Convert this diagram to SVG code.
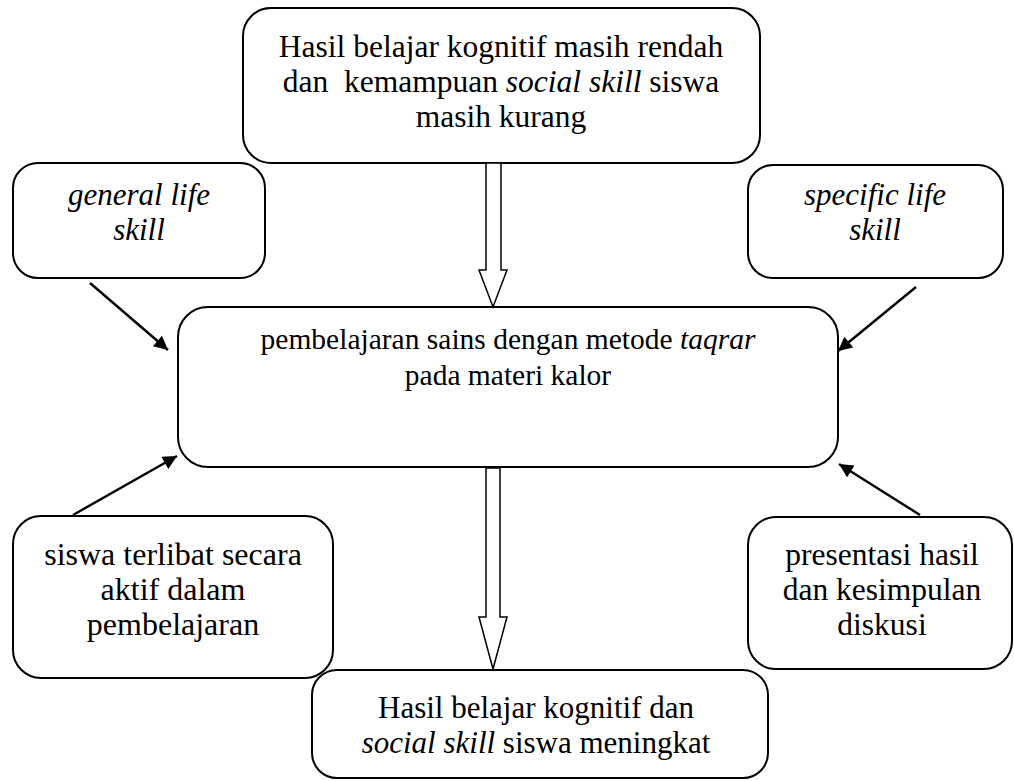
<svg xmlns="http://www.w3.org/2000/svg" width="1014" height="781" viewBox="0 0 1014 781">
<style>
.box{fill:#fff;stroke:#000;stroke-width:2}
text{font-family:'Liberation Serif','Times New Roman',serif;font-size:31px;fill:#000;text-anchor:middle}
.i{font-style:italic}
.ln{stroke:#000;stroke-width:2.4;fill:none}
.blk{fill:#fff;stroke:#000;stroke-width:1.5;stroke-linejoin:miter}
</style>
<defs>
<marker id="ah" viewBox="0 0 10 10" refX="10" refY="5" markerWidth="7.2" markerHeight="5.8" markerUnits="strokeWidth" orient="auto">
<path d="M0,0 L10,5 L0,10 z" fill="#000"/>
</marker>
</defs>
<rect width="1014" height="781" fill="#fff"/>
<g id="n-top">
<rect class="box" x="243" y="8" width="517" height="155" rx="28"/>
<text x="501" y="57" style="font-size:31.5px">Hasil belajar kognitif masih rendah</text>
<text x="501" y="92" style="font-size:31.5px" xml:space="preserve">dan  kemampuan <tspan class="i">social skill</tspan> siswa</text>
<text x="501" y="127" style="font-size:31.5px">masih kurang</text>
</g>
<g id="n-general">
<rect class="box" x="13" y="163" width="252" height="115" rx="25"/>
<text class="i" x="139" y="205">general life</text>
<text class="i" x="139" y="240">skill</text>
</g>
<g id="n-specific">
<rect class="box" x="748" y="165" width="255" height="113" rx="25"/>
<text class="i" x="875" y="205">specific life</text>
<text class="i" x="875" y="240">skill</text>
</g>
<g id="n-center">
<rect class="box" x="178" y="307" width="660" height="160" rx="30"/>
<text x="508" y="349" style="font-size:29.5px">pembelajaran sains dengan metode <tspan class="i">taqrar</tspan></text>
<text x="508" y="385" style="font-size:29.5px">pada materi kalor</text>
</g>
<g id="n-siswa">
<rect class="box" x="13" y="516" width="320" height="162" rx="28"/>
<text x="173" y="565" style="font-size:32px">siswa terlibat secara</text>
<text x="173" y="600" style="font-size:32px">aktif dalam</text>
<text x="173" y="635" style="font-size:32px">pembelajaran</text>
</g>
<g id="n-presentasi">
<rect class="box" x="748" y="517" width="264" height="152" rx="28"/>
<text x="882" y="565" style="font-size:31.5px">presentasi hasil</text>
<text x="882" y="600" style="font-size:31.5px">dan kesimpulan</text>
<text x="882" y="635" style="font-size:31.5px">diskusi</text>
</g>
<g id="n-bottom">
<rect class="box" x="312" y="670" width="456" height="108" rx="25"/>
<text x="536" y="718">Hasil belajar kognitif dan</text>
<text x="536" y="753"><tspan class="i">social skill</tspan> siswa meningkat</text>
</g>
<g id="connectors">
<path class="blk" d="M486,163 L501,163 L501,270 L507,270 L493,307 L479,270 L486,270 Z"/>
<path class="blk" d="M486,468 L500,468 L500,617 L507,617 L493,669 L479,617 L486,617 Z"/>
<line class="ln" x1="90" y1="283" x2="168" y2="350" marker-end="url(#ah)"/>
<line class="ln" x1="916" y1="287" x2="838" y2="351" marker-end="url(#ah)"/>
<line class="ln" x1="73" y1="515" x2="177" y2="456" marker-end="url(#ah)"/>
<line class="ln" x1="920" y1="515" x2="839" y2="464" marker-end="url(#ah)"/>
</g>
</svg>
